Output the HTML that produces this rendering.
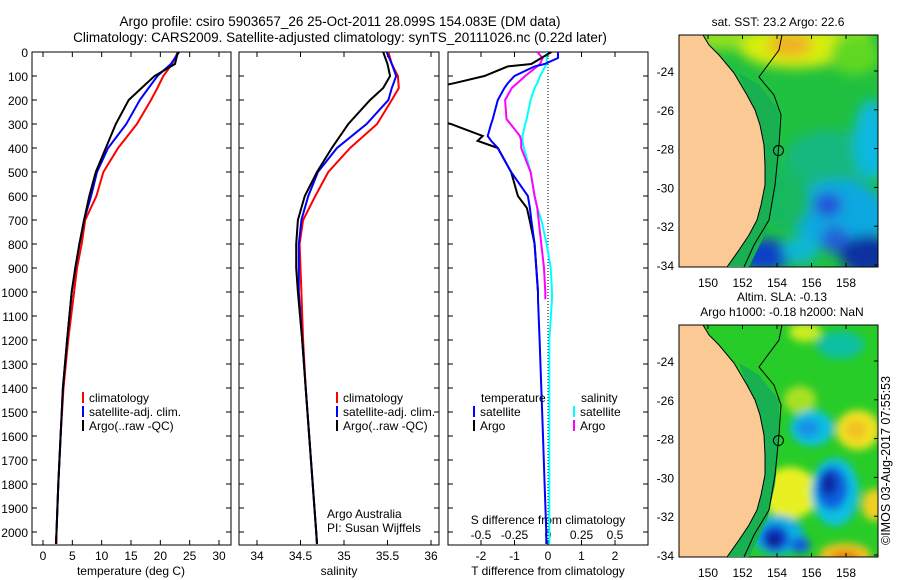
<!DOCTYPE html>
<html><head><meta charset="utf-8"><style>
body{margin:0;background:#fff;}
svg{display:block;font-family:"Liberation Sans",sans-serif;}
text{font-size:12px;fill:#000;}
</style></head><body>
<svg id="c" width="900" height="580">
<defs>
<filter id="bl" x="-50%" y="-50%" width="200%" height="200%"><feGaussianBlur stdDeviation="6"/></filter>
<filter id="bl2" x="-50%" y="-50%" width="200%" height="200%"><feGaussianBlur stdDeviation="4"/></filter>
<clipPath id="m1"><rect x="679" y="35" width="199" height="232"/></clipPath>
<clipPath id="m2"><rect x="679" y="325" width="199" height="232"/></clipPath>
<clipPath id="p1"><rect x="32" y="52" width="199" height="493"/></clipPath>
<clipPath id="p2"><rect x="239" y="52" width="200" height="493"/></clipPath>
<clipPath id="p3"><rect x="448" y="52" width="200" height="493"/></clipPath>
</defs>
<text x="340" y="26" text-anchor="middle" style="font-size:13.5px">Argo profile: csiro 5903657_26 25-Oct-2011 28.099S 154.083E (DM data)</text>
<text x="340" y="42" text-anchor="middle" style="font-size:13.5px">Climatology: CARS2009. Satellite-adjusted climatology: synTS_20111026.nc (0.22d later)</text>

<!-- map 1 -->
<g>
<text x="778" y="26" text-anchor="middle">sat. SST: 23.2  Argo: 22.6</text>
<g clip-path="url(#m1)">
<rect x="679" y="35" width="199" height="232" fill="#20c040"/>
<g filter="url(#bl)">
<rect x="700" y="25" width="170" height="25" fill="#90e020"/>
<ellipse cx="795" cy="48" rx="55" ry="20" fill="#d8ee10"/>
<ellipse cx="790" cy="45" rx="22" ry="12" fill="#f0b020"/>
<ellipse cx="855" cy="55" rx="25" ry="20" fill="#60d820"/>
<ellipse cx="830" cy="160" rx="45" ry="30" fill="#18b880"/>
<ellipse cx="872" cy="140" rx="18" ry="40" fill="#10b8e0"/>
<ellipse cx="840" cy="215" rx="48" ry="35" fill="#10a8e0"/>
<ellipse cx="828" cy="205" rx="14" ry="12" fill="#2050d8"/>
<ellipse cx="835" cy="240" rx="14" ry="14" fill="#2060d8"/>
<ellipse cx="868" cy="255" rx="28" ry="20" fill="#0830a0"/>
<ellipse cx="765" cy="255" rx="28" ry="16" fill="#1040c8"/>
<ellipse cx="800" cy="250" rx="18" ry="14" fill="#10b8d0"/>
<ellipse cx="785" cy="200" rx="25" ry="30" fill="#18b860"/>
</g>
</g>
</g>
<!-- map 2 -->
<g>
<text x="782" y="301" text-anchor="middle">Altim. SLA: -0.13</text>
<text x="782" y="316" text-anchor="middle">Argo h1000: -0.18 h2000: NaN</text>
<g clip-path="url(#m2)">
<rect x="679" y="325" width="199" height="232" fill="#28cc28"/>
<g filter="url(#bl2)">
<ellipse cx="805" cy="332" rx="16" ry="10" fill="#c8ec20"/>
<ellipse cx="840" cy="345" rx="24" ry="14" fill="#10c0a0"/>
<ellipse cx="800" cy="400" rx="16" ry="14" fill="#a8e020"/>
<ellipse cx="812" cy="428" rx="22" ry="18" fill="#10c0e0"/>
<ellipse cx="808" cy="428" rx="12" ry="9" fill="#1890e8"/>
<ellipse cx="858" cy="430" rx="22" ry="20" fill="#f0e020"/>
<ellipse cx="856" cy="430" rx="10" ry="9" fill="#f0c020"/>
<ellipse cx="790" cy="493" rx="28" ry="26" fill="#e8f020"/>
<ellipse cx="835" cy="492" rx="24" ry="34" fill="#10c0e0"/>
<ellipse cx="832" cy="488" rx="16" ry="22" fill="#1060e0"/>
<ellipse cx="829" cy="484" rx="8" ry="12" fill="#0828a0"/>
<ellipse cx="778" cy="535" rx="26" ry="20" fill="#10b0e0"/>
<ellipse cx="775" cy="538" rx="14" ry="13" fill="#1040d0"/>
<ellipse cx="774" cy="540" rx="6" ry="7" fill="#081880"/>
<ellipse cx="800" cy="545" rx="10" ry="8" fill="#1060e0"/>
<ellipse cx="845" cy="555" rx="26" ry="12" fill="#f0c020"/>
<ellipse cx="845" cy="558" rx="14" ry="7" fill="#e08010"/>
<ellipse cx="874" cy="505" rx="12" ry="16" fill="#f0d020"/>
</g>
</g>
</g>
<g id="axes"></g>
<g id="marks"></g>
<text transform="translate(890,545) rotate(-90)" style="font-size:12.5px">©IMOS 03-Aug-2017 07:55:53</text>
</svg>
<script>
// ---------- data ----------
const depths = [0,50,100,150,200,300,400,500,600,700,800,900,1000,1200,1400,1600,1800,2000,2050];
const tempClim = [23.0,22.0,20.5,19.5,18.4,16.0,12.8,10.3,9.1,7.2,6.6,5.8,5.3,4.3,3.5,3.0,2.6,2.3,2.3];
const tempSat  = [23.2,21.8,19.5,18.0,16.5,14.2,11.1,9.2,8.2,7.0,6.2,5.5,4.9,4.1,3.4,3.0,2.6,2.3,2.2];
const tempArgo = [23.0,22.5,19.0,16.8,14.6,12.4,10.7,9.0,7.9,7.0,6.2,5.5,4.9,4.1,3.4,3.0,2.6,2.3,2.2];
const salClim  = [35.51,35.55,35.62,35.63,35.55,35.38,35.07,34.82,34.67,34.53,34.49,34.50,34.51,34.53,34.56,34.60,34.64,34.68,34.69];
const salSat   = [35.49,35.55,35.60,35.55,35.51,35.26,34.92,34.70,34.59,34.51,34.48,34.48,34.48,34.52,34.56,34.60,34.64,34.68,34.69];
const salArgo  = [35.45,35.50,35.53,35.45,35.30,35.05,34.86,34.69,34.55,34.47,34.45,34.45,34.47,34.52,34.56,34.60,34.64,34.68,34.69];
const diffDepths = [0,25,50,60,100,130,150,200,280,300,350,370,400,500,600,650,700,800,900,1000,1030,1200,1400,1600,1800,2000,2050];
const dTSat  = [0.3,0.3,-0.1,-0.4,-1.0,-1.2,-1.3,-1.5,-1.65,-1.7,-1.8,-1.7,-1.5,-1.1,-0.6,-0.54,-0.5,-0.4,-0.35,-0.3,-0.3,-0.25,-0.2,-0.15,-0.1,-0.05,-0.05];
const dTArgo = [0.1,-0.2,-0.5,-1.2,-1.9,-2.8,-3.5,-3.6,-3.5,-2.9,-1.95,-2.1,-1.5,-1.1,-0.9,-0.63,-0.55,-0.4,-0.35,-0.3,-0.3,null,null,null,null,null,null];
const dSSat  = [-0.01,-0.01,-0.01,-0.02,-0.06,-0.08,-0.1,-0.13,-0.16,-0.17,-0.19,-0.19,-0.18,-0.13,-0.1,-0.08,-0.05,-0.01,0.02,0.03,0.03,0.01,0.01,0.01,0.01,0.01,0.01];
const dSArgo = [-0.08,-0.04,-0.06,-0.08,-0.17,-0.23,-0.27,-0.32,-0.31,-0.28,-0.21,-0.2,-0.2,-0.13,-0.1,-0.08,-0.07,-0.05,-0.03,-0.02,-0.02,null,null,null,null,null,null];
const depthTicks = [0,100,200,300,400,500,600,700,800,900,1000,1100,1200,1300,1400,1500,1600,1700,1800,1900,2000];
const tempTicks = [0,5,10,15,20,25,30];
const salTicks = [34,34.5,35,35.5,36];
const tdTicks = [-2,-1,0,1,2];
const sdTicks = [-0.5,-0.25,0,0.25,0.5];
const lonTicks = [150,152,154,156,158];
const latTicks = [-24,-26,-28,-30,-32,-34];

// ---------- scales ----------
const yD = d => 52 + d*0.24;
const xT = t => 43 + t*5.867;
const xS = s => 257 + (s-34)*87;
const xTd = d => 548 + d*33.5;
const xSd = d => 548 + d*134;
const xLon = l => 708 + (l-150)*17.25;
const yLat1 = l => 71 + (-24-l)*19.4;
const yLat2 = l => 361 + (-24-l)*19.4;

const NS='http://www.w3.org/2000/svg';
const axes=document.getElementById('axes'), marks=document.getElementById('marks');
function mk(tag,attrs,parent){const e=document.createElementNS(NS,tag);for(const k in attrs)e.setAttribute(k,attrs[k]);(parent||axes).appendChild(e);return e;}
function txt(x,y,s,anchor,parent){const e=mk('text',{x:x,y:y,'text-anchor':anchor||'middle'},parent);e.textContent=s;return e;}

// panels
const panels=[[32,231,'temperature-panel'],[239,439,'salinity-panel'],[448,648,'difference-panel']];
panels.forEach(p=>{
  const r=mk('rect',{x:p[0],y:52,width:p[1]-p[0],height:493,fill:'none',stroke:'#000','stroke-width':1});
  
  
});
// depth ticks
depthTicks.forEach(d=>{
  const y=yD(d);
  [[32,231],[239,439],[448,648]].forEach(p=>{
    mk('line',{x1:p[0],y1:y,x2:p[0]+5,y2:y,stroke:'#000'});
    mk('line',{x1:p[1],y1:y,x2:p[1]-5,y2:y,stroke:'#000'});
  });
  const t=txt(28,y+5,String(d),'end');
  
  
});
function xticks(vals,f,fmt,y0){vals.forEach(v=>{const x=f(v);mk('line',{x1:x,y1:545,x2:x,y2:540,stroke:'#000'});mk('line',{x1:x,y1:52,x2:x,y2:57,stroke:'#000'});
  const t=txt(x,y0,fmt(v));
  
  });}
xticks(tempTicks,xT,String,560);
xticks(salTicks,xS,String,560);
xticks(tdTicks,xTd,String,560);
sdTicks.forEach(v=>{const t=txt(xSd(v),539,String(v));
  
  });
let t;
t=txt(131,575,'temperature (deg C)');
t=txt(339,575,'salinity');
t=txt(548,575,'T difference from climatology');
t=txt(548,524,'S difference from climatology');
// zero dotted line
mk('line',{x1:548,y1:52,x2:548,y2:545,stroke:'#000','stroke-dasharray':'1,2'});

// map axes
function mapAxes(y0,yLat,name){
  const r=mk('rect',{x:679,y:y0,width:199,height:232,fill:'none',stroke:'#000'});
  
  
  lonTicks.forEach(l=>{const x=xLon(l);mk('line',{x1:x,y1:y0+232,x2:x,y2:y0+228,stroke:'#000'});mk('line',{x1:x,y1:y0,x2:x,y2:y0+4,stroke:'#000'});
    const t=txt(x,y0+252,String(l));});
  latTicks.forEach(l=>{const y=yLat(l);mk('line',{x1:679,y1:y,x2:683,y2:y,stroke:'#000'});mk('line',{x1:878,y1:y,x2:874,y2:y,stroke:'#000'});
    const t=txt(674,y+5,String(l),'end');});
  // coastal shelf band (darker green)
  mk('polygon',{points:[[60,38],[80,50],[100,75],[100,120],[96,160],[88,195],[70,232],[48,232],[70,200],[82,170],[86,130],[80,90],[68,60]].map(p=>(679+p[0])+','+(y0+p[1])).join(' '),fill:'#18b050',stroke:'none'});
  // land
  const pts=[[0,0],[24,0],[30,10],[40,20],[55,38],[68,60],[76,75],[81,90],[85,110],[86,130],[86,150],[82,170],[78,185],[70,200],[60,215],[48,232],[0,232]];
  const land=mk('polygon',{points:pts.map(p=>(679+p[0])+','+(y0+p[1])).join(' '),fill:'#fbc994',stroke:'#000','stroke-width':1});
  
  
  // shelf line
  mk('polyline',{points:[[103,0],[100,15],[80,42],[95,60],[102,80],[100,110],[96,150],[90,185],[75,210],[65,232]].map(p=>(679+p[0])+','+(y0+p[1])).join(' '),fill:'none',stroke:'#000','stroke-width':1});
  const c=mk('circle',{cx:xLon(154.083),cy:yLat(-28.099),r:5,fill:'none',stroke:'#000'});
  
  
}
mapAxes(35,yLat1,'sst-map');
mapAxes(325,yLat2,'sla-map');

// series
function line(vals,deps,fx,color,clip,name){
  let segs=[],cur=[];
  vals.forEach((v,i)=>{if(v===null){if(cur.length)segs.push(cur);cur=[];}else cur.push(fx(v).toFixed(1)+','+yD(deps[i]).toFixed(1));});
  if(cur.length)segs.push(cur);
  segs.forEach(s=>{
    const e=mk('polyline',{points:s.join(' '),fill:'none',stroke:color,'stroke-width':2,'clip-path':'url(#'+clip+')'},marks);
    
    
  });
}
line(tempClim,depths,xT,'#ff0000','p1','temp-climatology-line');
line(tempSat,depths,xT,'#0000ff','p1','temp-satellite-line');
line(tempArgo,depths,xT,'#000000','p1','temp-argo-line');
line(salClim,depths,xS,'#ff0000','p2','sal-climatology-line');
line(salSat,depths,xS,'#0000ff','p2','sal-satellite-line');
line(salArgo,depths,xS,'#000000','p2','sal-argo-line');
line(dSSat,diffDepths,xSd,'#00ffff','p3','s-diff-satellite-line');
line(dSArgo,diffDepths,xSd,'#ff00ff','p3','s-diff-argo-line');
line(dTArgo,diffDepths,xTd,'#000000','p3','t-diff-argo-line');
line(dTSat,diffDepths,xTd,'#0000ff','p3','t-diff-satellite-line');

// legends
function leg(x,y,color,label,name){
  const r=mk('rect',{x:x,y:y-10,width:2,height:11,fill:color},marks);
  const t=txt(x+7,y,label,'start',marks);
  
  
}
[[82,'temp'],[336,'sal']].forEach(l=>{
  leg(l[0],402,'#ff0000','climatology',l[1]+'-legend-climatology');
  leg(l[0],416,'#0000ff','satellite-adj. clim.',l[1]+'-legend-satellite');
  leg(l[0],430,'#000000','Argo(..raw -QC)',l[1]+'-legend-argo');
});
t=txt(481,402,'temperature','start',marks);
t=txt(581,402,'salinity','start',marks);
leg(473,416,'#0000ff','satellite','diff-legend-t-satellite');
leg(473,430,'#000000','Argo','diff-legend-t-argo');
leg(573,416,'#00ffff','satellite','diff-legend-s-satellite');
leg(573,430,'#ff00ff','Argo','diff-legend-s-argo');
t=txt(327,518,'Argo Australia','start',marks);
t=txt(327,532,'PI: Susan Wijffels','start',marks);
</script>
</body></html>
